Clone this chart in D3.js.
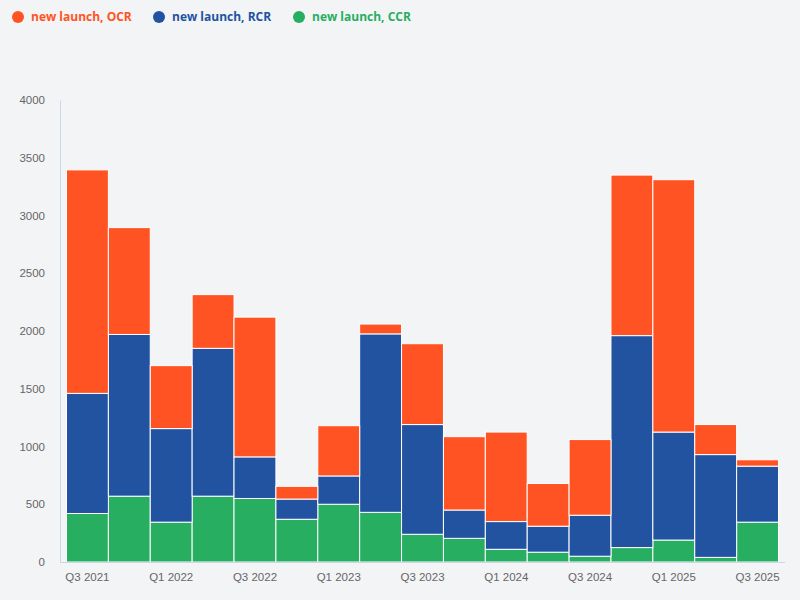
<!DOCTYPE html>
<html>
<head>
<meta charset="utf-8">
<script src="https://cdn.jsdelivr.net/npm/d3@7"></script>
<style>
	html, body { margin: 0; padding: 0; background: #f3f4f6; }
	svg { display: block; font-family: 'Open Sans', 'Noto Sans', sans-serif; }
</style>
</head>
<body>
<svg id="chart" width="800" height="600"></svg>
<script>
const quarters = ['Q3 2021', 'Q4 2021', 'Q1 2022', 'Q2 2022', 'Q3 2022', 'Q4 2022', 'Q1 2023', 'Q2 2023',
	'Q3 2023', 'Q4 2023', 'Q1 2024', 'Q2 2024', 'Q3 2024', 'Q4 2024', 'Q1 2025', 'Q2 2025', 'Q3 2025'];
// stacked bottom to top: CCR, RCR, OCR
const ccr = [420, 570, 345, 570, 550, 370, 500, 430, 240, 205, 110, 85, 50, 125, 190, 40, 345];
const rcr = [1040, 1400, 810, 1280, 360, 175, 245, 1545, 950, 245, 240, 225, 355, 1835, 935, 890, 485];
const ocr = [1935, 925, 545, 465, 1210, 110, 435, 85, 700, 635, 775, 370, 655, 1390, 2185, 260, 55];
const yTicks = [0, 500, 1000, 1500, 2000, 2500, 3000, 3500, 4000];

const series = [
	{ key: 'ccr', name: 'new launch, CCR', color: '#27ae60', values: ccr },
	{ key: 'rcr', name: 'new launch, RCR', color: '#2253a1', values: rcr },
	{ key: 'ocr', name: 'new launch, OCR', color: '#ff5323', values: ocr },
];

const rows = quarters.map((q, i) => {
	const row = { q };
	series.forEach(s => { row[s.key] = s.values[i]; });
	return row;
});

const svg = d3.select('#chart');
const plotLeft = 60, plotRight = 785, plotTop = 100, plotBottom = 562;

const x = d3.scaleBand().domain(quarters).range([plotLeft, plotRight]).paddingInner(0).paddingOuter(0.155);
const y = d3.scaleLinear().domain([0, 4000]).range([plotBottom, plotTop]);

const stack = d3.stack().keys(series.map(s => s.key))(rows);

svg.append('g').selectAll('g')
	.data(stack).enter().append('g')
	.attr('fill', (d, i) => series[i].color)
	.selectAll('rect')
	.data(d => d).enter().append('rect')
	.attr('x', d => x(d.data.q))
	.attr('width', x.bandwidth())
	.attr('y', d => y(d[1]))
	.attr('height', d => y(d[0]) - y(d[1]))
	.attr('stroke', '#fff').attr('stroke-width', 1);

// axes
const yAxis = svg.append('g').attr('transform', `translate(${plotLeft},0)`)
	.call(d3.axisLeft(y).tickValues(yTicks).tickFormat(d3.format('d')).tickSize(0).tickPadding(15));
yAxis.select('.domain').attr('stroke', '#ccd6eb');
yAxis.selectAll('text').attr('fill', '#666').style('font-size', '11.5px');

const xAxis = svg.append('g').attr('transform', `translate(0,${plotBottom})`)
	.call(d3.axisBottom(x).tickValues(quarters.filter((q, i) => i % 2 === 0)).tickSize(0).tickPadding(11).tickSizeOuter(0));
xAxis.select('.domain').attr('stroke', '#ccd6eb').attr('d', `M${plotLeft},0.5H${plotRight}`);
xAxis.selectAll('text').attr('fill', '#666').style('font-size', '11.5px');

// legend
const legendItems = [series[2], series[1], series[0]];
const legendX = [18, 159, 299];
const legend = svg.append('g').selectAll('g')
	.data(legendItems).enter().append('g')
	.attr('transform', (d, i) => `translate(${legendX[i]},17)`);
legend.append('circle').attr('r', 6).attr('fill', d => d.color);
legend.append('text').attr('x', 13).attr('dy', '0.35em')
	.attr('fill', d => d.color)
	.style('font-size', '12px').style('font-weight', 'bold')
	.text(d => d.name);
</script>
</body>
</html>
